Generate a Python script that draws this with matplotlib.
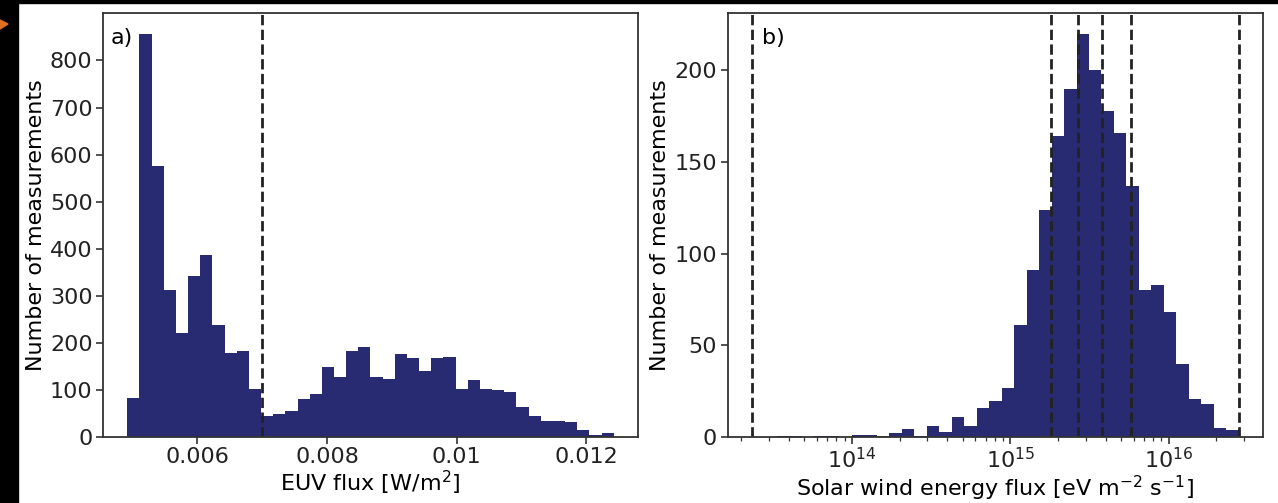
import numpy as np
import matplotlib as mpl
mpl.use('Agg')
from matplotlib import pyplot as plt
from matplotlib.patches import Rectangle, Polygon
from matplotlib.ticker import FormatStrFormatter, MultipleLocator

plt.rcParams['font.family'] = ['DejaVu Sans']
plt.rcParams['mathtext.default'] = 'regular'
plt.rcParams.update({'font.size': 16})

bar_color = '#282a72'

# panel a) EUV flux histogram, 40 equal bins
euv_min = 0.00492
euv_max = 0.01242
euv_counts = [82, 857, 575, 312, 221, 342, 386, 238, 179, 182,
              101, 44, 48, 55, 80, 91, 148, 127, 182, 191,
              127, 123, 176, 168, 140, 168, 170, 102, 121, 101,
              99, 95, 63, 44, 33, 33, 31, 14, 4, 8]
euv_threshold = 0.007

# panel b) solar wind energy flux, 39 log bins
sw_min = 2.34e13
sw_max = 2.77e16
sw_counts = [0, 0, 0.6, 0.6, 0, 0.6, 0.6, 0, 1.3, 1.3,
             0.4, 2.3, 4.6, 0.6, 5.8, 2.5, 10.7, 5.8, 15.6, 19.5,
             26.5, 61, 91, 124, 164, 190, 220, 200, 178, 166,
             137, 80, 83, 68, 40, 21, 18, 5, 4]
sw_lines = [2.34e13, 1.82e15, 2.69e15, 3.78e15, 5.79e15, 2.77e16]


def style_axes(ax):
    for sp in ax.spines.values():
        sp.set_color('#333333')
        sp.set_linewidth(1.3)
    ax.tick_params(which='major', length=5, width=1.2, pad=2.5,
                   color='#333333', labelcolor='#222222')
    ax.tick_params(which='minor', length=3, width=0.9, color='#333333')


fig = plt.figure(figsize=(12.78, 5.03), dpi=100)

ax1 = fig.add_axes([0.0806, 0.1312, 0.4186, 0.842])
edges = np.linspace(euv_min, euv_max, len(euv_counts) + 1)
centers = 0.5 * (edges[:-1] + edges[1:])
ax1.hist(centers, bins=edges, weights=euv_counts, color=bar_color)
ax1.axvline(euv_threshold, color='#222222', ls='--', lw=2)
ax1.xaxis.set_major_locator(MultipleLocator(0.002))
ax1.xaxis.set_major_formatter(FormatStrFormatter('%g'))
ax1.yaxis.set_major_locator(MultipleLocator(100))
ax1.set_xlabel('EUV flux [W/m$^2$]', labelpad=1)
ax1.set_ylabel('Number of measurements', labelpad=3)
ax1.text(0.015, 0.965, 'a)', transform=ax1.transAxes, va='top', ha='left')
style_axes(ax1)

ax2 = fig.add_axes([0.5693, 0.1312, 0.4191, 0.842])
sw_edges = np.logspace(np.log10(sw_min), np.log10(sw_max), len(sw_counts) + 1)
sw_centers = np.sqrt(sw_edges[:-1] * sw_edges[1:])
ax2.hist(sw_centers, bins=sw_edges, weights=sw_counts, color=bar_color)
for v in sw_lines:
    ax2.axvline(v, color='#222222', ls='--', lw=2)
ax2.set_xscale('log')
ax2.yaxis.set_major_locator(MultipleLocator(50))
ax2.set_xlabel('Solar wind energy flux [eV m$^{-2}$ s$^{-1}$]', labelpad=1)
ax2.set_ylabel('Number of measurements', labelpad=3)
ax2.text(0.064, 0.965, 'b)', transform=ax2.transAxes, va='top', ha='left')
style_axes(ax2)

# screenshot border bits
fig.patches.append(Rectangle((0, 0), 18 / 1278, 1, transform=fig.transFigure,
                             color='black', zorder=-1))
fig.patches.append(Rectangle((0, 1 - 3 / 503), 1, 3 / 503, transform=fig.transFigure,
                             color='black', zorder=-1))
fig.patches.append(Polygon([(0, 1 - 20 / 503), (8 / 1278, 1 - 24 / 503), (0, 1 - 29 / 503)],
                           closed=True, transform=fig.transFigure, color='#e07020'))

fig.savefig('out.png', dpi=100)
